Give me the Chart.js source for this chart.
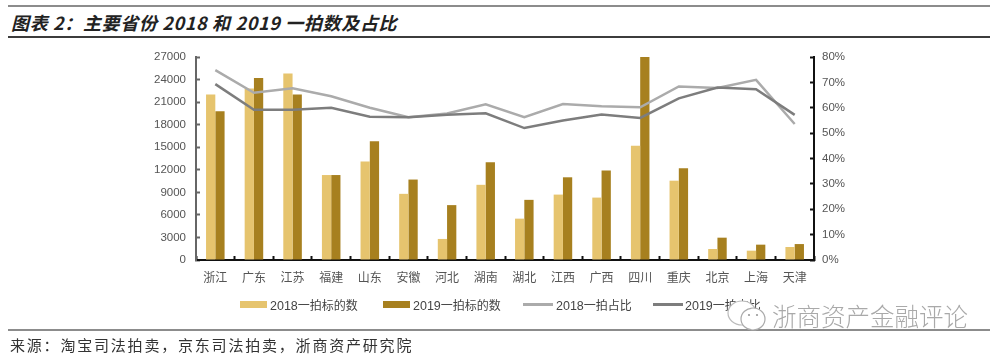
<!DOCTYPE html>
<html>
<head>
<meta charset="utf-8">
<script src="https://cdn.jsdelivr.net/npm/chart.js@4"></script>
<style>
  html, body { margin: 0; background: #fff; }
  #page { position: relative; width: 1000px; height: 360px; overflow: hidden; font-family: "Noto Sans CJK SC", sans-serif; }
  #chart-wrap { position: absolute; left: 0; top: 0; width: 1000px; height: 360px; }
  .rule { position: absolute; left: 8px; width: 982px; }
  #title { position: absolute; left: 11px; top: 9px; font-size: 18px; line-height: 26px; font-style: italic; font-weight: 700; color: #222; letter-spacing: 0.65px; white-space: nowrap; }
  #source { position: absolute; left: 10px; top: 334px; font-size: 15px; line-height: 22px; color: #333; letter-spacing: 1.8px; white-space: nowrap; }
  .legend-text { position: absolute; top: 296px; font-size: 12px; line-height: 17px; color: #444; white-space: nowrap; }
  .legend-text b { font: 12.5px "Liberation Sans", sans-serif; }
  .swatch { position: absolute; }
  #watermark { position: absolute; left: 772px; top: 298px; font-size: 24.5px; line-height: 36px; color: #a9a9a9; font-weight: 300; white-space: nowrap; }
  #wechat { position: absolute; left: 725px; top: 300px; }
</style>
</head>
<body>
<div id="page">
  <div class="rule" style="top:5px;height:2px;background:#8c8c8c"></div>
  <div class="rule" style="top:36px;height:2px;background:#3c3c3c"></div>
  <div class="rule" style="top:329px;height:2px;background:#8c8c8c"></div>
  <div id="title">图表 2：主要省份 2018 和 2019 一拍数及占比</div>
  <div id="chart-wrap"><canvas id="mainChart"></canvas></div>
  <div id="legend"></div>
  <svg id="wechat" width="44" height="34" viewBox="0 0 44 34">
    <ellipse cx="17" cy="13" rx="14" ry="12" fill="#fff" stroke="#bbb" stroke-width="1.2"/>
    <ellipse cx="28" cy="19" rx="12" ry="11" fill="#fff" stroke="#aaa" stroke-width="1.2"/>
    <circle cx="24" cy="15" r="1.1" fill="#999"/><circle cx="32" cy="15" r="1.1" fill="#999"/>
  </svg>
  <div id="watermark">浙商资产金融评论</div>
  <div id="source">来源：淘宝司法拍卖，京东司法拍卖，浙商资产研究院</div>
</div>
<script>
const provinces = ['浙江', '广东', '江苏', '福建', '山东', '安徽', '河北', '湖南', '湖北', '江西', '广西', '四川', '重庆', '北京', '上海', '天津'];
const count2018 = [22000, 22800, 24800, 11300, 13100, 8800, 2800, 10000, 5500, 8700, 8300, 15200, 10550, 1460, 1240, 1730];
const count2019 = [19800, 24200, 22000, 11300, 15800, 10700, 7300, 13000, 8000, 11000, 11900, 27000, 12200, 2970, 2040, 2120];
const share2018 = [74.8, 65.9, 67.7, 64.5, 60, 56.3, 57.7, 61.4, 56.3, 61.5, 60.6, 60.2, 68.4, 67.8, 71, 53.6];
const share2019 = [69.3, 59.2, 59.2, 60, 56.5, 56.3, 57.2, 57.8, 52, 55, 57.3, 56, 63.7, 68, 67.3, 57.2];
const seriesNames = ['2018一拍标的数', '2019一拍标的数', '2018一拍占比', '2019一拍占比'];

const COLOR_BAR_18 = '#e6c46e';
const COLOR_BAR_19 = '#a7801f';
const COLOR_LINE_18 = '#ababab';
const COLOR_LINE_19 = '#7d7d7d';

// --- Legend (plain DOM so it can sit exactly where the reference has it) ---
const legendEl = document.getElementById('legend');
const legendLayout = [
    { x: 240, w: 27, h: 7, y: 301, tx: 270, color: COLOR_BAR_18 },
    { x: 383, w: 27, h: 7, y: 301, tx: 413, color: COLOR_BAR_19 },
    { x: 523, w: 30, h: 3, y: 303, tx: 556, color: COLOR_LINE_18 },
    { x: 653, w: 30, h: 3, y: 303, tx: 685, color: COLOR_LINE_19 }
];
legendLayout.forEach((item, i) => {
    const swatch = document.createElement('div');
    swatch.className = 'swatch';
    swatch.style.cssText = `left:${item.x}px;top:${item.y}px;width:${item.w}px;height:${item.h}px;background:${item.color}`;
    legendEl.appendChild(swatch);
    const label = document.createElement('div');
    label.className = 'legend-text';
    label.style.left = item.tx + 'px';
    label.innerHTML = `<b>${seriesNames[i].slice(0, 4)}</b>${seriesNames[i].slice(4)}`;
    legendEl.appendChild(label);
});

// --- Chart ---
const tickFont = { family: '"Liberation Sans", sans-serif', size: 11.5 };

new Chart(document.getElementById('mainChart').getContext('2d'), {
    type: 'bar',
    data: {
        labels: provinces,
        datasets: [
            { label: seriesNames[0], data: count2018, backgroundColor: COLOR_BAR_18, yAxisID: 'y', order: 2, barPercentage: 1, categoryPercentage: 0.48 },
            { label: seriesNames[1], data: count2019, backgroundColor: COLOR_BAR_19, yAxisID: 'y', order: 2, barPercentage: 1, categoryPercentage: 0.48 },
            { type: 'line', label: seriesNames[2], data: share2018, borderColor: COLOR_LINE_18, borderWidth: 2.5, pointRadius: 0, tension: 0, yAxisID: 'y1', order: 1 },
            { type: 'line', label: seriesNames[3], data: share2019, borderColor: COLOR_LINE_19, borderWidth: 2.5, pointRadius: 0, tension: 0, yAxisID: 'y1', order: 0 }
        ]
    },
    options: {
        responsive: true, maintainAspectRatio: false, animation: false,
        layout: { padding: { top: 57 } },
        plugins: { legend: { display: false }, tooltip: { enabled: false } },
        scales: {
            x: {
                afterFit: (s) => { s.height = 100; },
                border: { color: '#111', width: 2 },
                grid: { drawOnChartArea: false, tickLength: -4, tickColor: '#111', tickWidth: 2 },
                ticks: { color: '#555', padding: 14.5, maxRotation: 0, autoSkip: false, font: { family: '"Noto Sans CJK SC", sans-serif', size: 12 } }
            },
            y: {
                position: 'left', min: 0, max: 27000,
                afterFit: (s) => { s.width = 196; },
                border: { color: '#666', width: 2 },
                grid: { drawOnChartArea: false, tickLength: -4, tickColor: '#666', tickWidth: 2 },
                ticks: { stepSize: 3000, color: '#555', padding: 14, font: tickFont, callback: (v) => String(v) }
            },
            y1: {
                position: 'right', min: 0, max: 80,
                afterFit: (s) => { s.width = 186; },
                border: { color: '#111', width: 2 },
                grid: { drawOnChartArea: false, tickLength: -4, tickColor: '#111', tickWidth: 2 },
                ticks: { stepSize: 10, color: '#555', padding: 12, font: tickFont, callback: (v) => v + '%' }
            }
        }
    }
});
</script>
</body>
</html>
